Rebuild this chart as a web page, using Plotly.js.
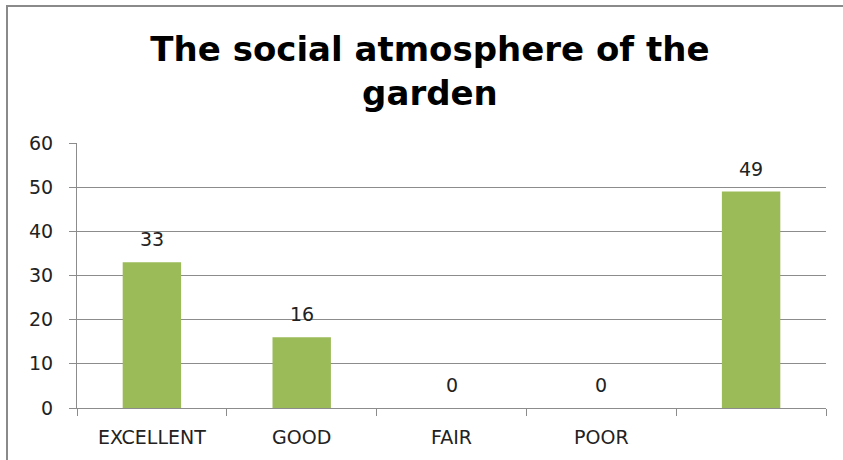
<!DOCTYPE html>
<html>
<head>
<meta charset="utf-8">
<script src="https://cdn.plot.ly/plotly-3.0.1.min.js"></script>
<style>
html,body{margin:0;padding:0;background:#fff;}
#wrap{position:relative;width:843px;height:460px;overflow:hidden;}
#chart{width:843px;height:460px;}
#frame{position:absolute;left:6px;top:5px;width:900px;height:500px;border-left:2px solid #8a8a8a;border-top:2px solid #8a8a8a;pointer-events:none;}
</style>
</head>
<body>
<div id="wrap"><div id="chart"></div><div id="frame"></div></div>
<script>
const categories = ["EXCELLENT", "GOOD", "FAIR", "POOR", " "];
const values = [33, 16, 0, 0, 49];
const yTicks = [0, 10, 20, 30, 40, 50, 60];
const titleText = "The social atmosphere of the<br>garden";

const labelFont = {family: "DejaVu Sans", size: 19, color: "#222"};

const trace = {
  type: "bar",
  x: categories,
  y: values,
  marker: {color: "#9bbb59"},
  width: 0.39,
  hoverinfo: "none"
};

const annotations = categories.map((c, i) => ({
  x: c, y: values[i], xref: "x", yref: "y",
  text: String(values[i]), showarrow: false,
  xanchor: "center", yanchor: "bottom", yshift: 10,
  font: labelFont
}));

const layout = {
  width: 843, height: 460,
  margin: {l: 77, r: 17, t: 143, b: 52},
  paper_bgcolor: "#fff", plot_bgcolor: "#fff",
  showlegend: false,
  title: {
    text: titleText,
    font: {family: "DejaVu Sans", size: 34, color: "#000", weight: "bold"},
    x: 0.51, xanchor: "center", yref: "container", y: 0.868, yanchor: "middle"
  },
  annotations: annotations,
  xaxis: {
    type: "category",
    showline: true, linecolor: "#8c8c8c", linewidth: 1,
    ticks: "outside", tickson: "boundaries", ticklen: 7, tickcolor: "#8c8c8c",
    tickfont: labelFont,
    ticklabelstandoff: 12,
    showgrid: false, zeroline: false
  },
  yaxis: {
    range: [0, 60], tickvals: yTicks, ticktext: yTicks.map(String),
    showline: true, linecolor: "#8c8c8c", linewidth: 1,
    ticks: "outside", ticklen: 7, tickcolor: "#8c8c8c",
    showgrid: true, gridcolor: "#8c8c8c", gridwidth: 1,
    zeroline: false,
    tickfont: labelFont,
    ticklabelstandoff: 12
  }
};

Plotly.newPlot("chart", [trace], layout, {staticPlot: true});
</script>
</body>
</html>
